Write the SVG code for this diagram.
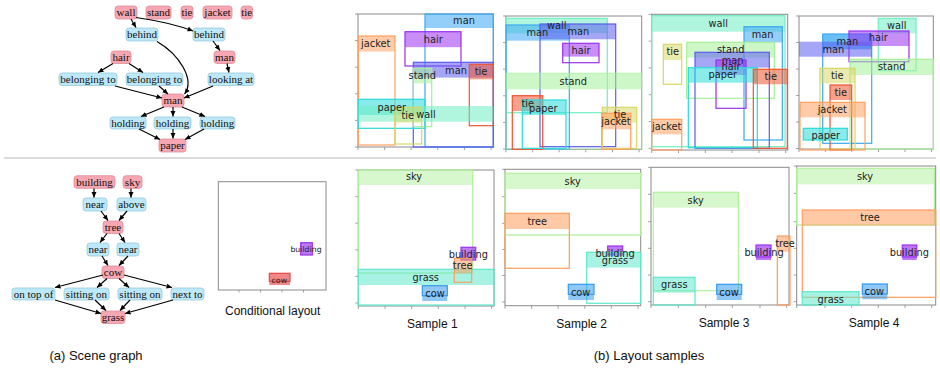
<svg xmlns="http://www.w3.org/2000/svg" width="940" height="371" viewBox="0 0 940 371">
<defs>
<marker id="ah" viewBox="0 0 10 10" refX="10" refY="5" markerWidth="5.5" markerHeight="5.5" orient="auto" markerUnits="userSpaceOnUse"><path d="M0,0.5 L10,5 L0,9.5 z" fill="#000"/></marker>
</defs>
<style>
.sg rect{rx:3;ry:3;stroke-width:0.8}
.obj rect{fill:#f6a7b2;stroke:#df8d99}
.rel rect{fill:#bde8f7;stroke:#97cadc}
.sg text{font-family:"Liberation Serif",serif;font-size:11px;fill:#111;text-anchor:middle}
.edges path{fill:none;stroke:#000;stroke-width:1.2;marker-end:url(#ah)}
.frame{fill:none;stroke:#8a8a8a;stroke-width:1}
.tick{fill:none;stroke:#8a8a8a;stroke-width:0.8}
.lb{font-family:"DejaVu Sans",sans-serif;font-size:9.8px;fill:#222;text-anchor:middle}
.cap{font-family:"Liberation Sans",Arial,sans-serif;font-size:12px;fill:#111;text-anchor:middle}
.big{font-size:13px}
.o{fill:none;stroke-width:1.2}
.h{stroke:none;fill-opacity:0.55}
.man1 .o{stroke:#3aa8f2}.man1 .h{fill:#3aa8f2}
.man2 .o{stroke:#5c5cf0}.man2 .h{fill:#5c5cf0}
.hair .o{stroke:#9a30f0}.hair .h{fill:#9a30f0}
.tier .o{stroke:#f0552f}.tier .h{fill:#f0552f}
.tiey .o{stroke:#d8d868}.tiey .h{fill:#d8d868}
.jacket .o{stroke:#ffa060}.jacket .h{fill:#ffa060}
.stand .o{stroke:#a6f09a}.stand .h{fill:#a6f09a}
.wall .o{stroke:#6fefc2}.wall .h{fill:#6fefc2}
.paper .o{stroke:#2adada}.paper .h{fill:#2adada}
.sky .o{stroke:#b0f09a}.sky .h{fill:#b0f09a;fill-opacity:0.5}
.tree .o{stroke:#ff9d5c}.tree .h{fill:#ff9d5c}
.grass .o{stroke:#5ee8cc}.grass .h{fill:#5ee8cc}
.cow .o{stroke:#3399ee}.cow .h{fill:#3399ee}
.bld .o{stroke:#9a30f0}.bld .h{fill:#9a30f0;fill-opacity:0.65}
.ccow .o{stroke:#e84848}.ccow .h{fill:#e84848;fill-opacity:0.65}
</style>
<rect width="940" height="371" fill="#fff"/>

<!-- divider -->
<line x1="4" y1="158" x2="936" y2="158" stroke="#b5b5b5" stroke-width="1"/>

<!-- scene graph top -->
<g class="sg">
<g id="n-wall" class="obj"><rect x="115" y="6" width="22" height="13"/><text x="126" y="16.3">wall</text></g>
<g id="n-stand" class="obj"><rect x="146" y="6" width="25" height="13"/><text x="158.5" y="16.3">stand</text></g>
<g id="n-tie1" class="obj"><rect x="181" y="6" width="12" height="13"/><text x="187" y="16.3">tie</text></g>
<g id="n-jacket" class="obj"><rect x="203" y="6" width="29" height="13"/><text x="217.5" y="16.3">jacket</text></g>
<g id="n-tie2" class="obj"><rect x="241" y="6" width="11.5" height="13"/><text x="246.7" y="16.3">tie</text></g>
<g id="n-behind1" class="rel"><rect x="126" y="28" width="32" height="13"/><text x="142" y="38.3">behind</text></g>
<g id="n-behind2" class="rel"><rect x="193" y="28" width="32" height="13"/><text x="209" y="38.3">behind</text></g>
<g id="n-hair" class="obj"><rect x="111" y="51" width="20" height="12.5"/><text x="121" y="61">hair</text></g>
<g id="n-man2" class="obj"><rect x="214" y="51" width="21" height="12.5"/><text x="224.5" y="61">man</text></g>
<g id="n-bel1" class="rel"><rect x="59" y="73" width="58" height="12.5"/><text x="88" y="83">belonging to</text></g>
<g id="n-bel2" class="rel"><rect x="126" y="73" width="57" height="12.5"/><text x="154.5" y="83">belonging to</text></g>
<g id="n-look" class="rel"><rect x="208" y="73" width="46" height="12.5"/><text x="231" y="83">looking at</text></g>
<g id="n-man1" class="obj"><rect x="162" y="94" width="22" height="13"/><text x="173" y="104">man</text></g>
<g id="n-hold1" class="rel"><rect x="110" y="117" width="36" height="12"/><text x="128" y="126.8">holding</text></g>
<g id="n-hold2" class="rel"><rect x="154" y="117" width="37" height="12"/><text x="172.5" y="126.8">holding</text></g>
<g id="n-hold3" class="rel"><rect x="200" y="117" width="35" height="12"/><text x="217.5" y="126.8">holding</text></g>
<g id="n-paper" class="obj"><rect x="159" y="139" width="27" height="13"/><text x="172.5" y="149">paper</text></g>

<!-- scene graph bottom -->
<g id="n-building" class="obj"><rect x="74" y="175.7" width="41" height="12.6"/><text x="94.5" y="185.8">building</text></g>
<g id="n-sky" class="obj"><rect x="123" y="175.7" width="19" height="12.6"/><text x="132.5" y="185.8">sky</text></g>
<g id="n-near1" class="rel"><rect x="83" y="198" width="24" height="13"/><text x="95" y="208.3">near</text></g>
<g id="n-above" class="rel"><rect x="117" y="198" width="29" height="13"/><text x="131.5" y="208.3">above</text></g>
<g id="n-tree" class="obj"><rect x="103" y="221" width="20" height="12.5"/><text x="113" y="231">tree</text></g>
<g id="n-near2" class="rel"><rect x="87" y="243" width="22" height="13"/><text x="98" y="253.3">near</text></g>
<g id="n-near3" class="rel"><rect x="117" y="243" width="22" height="13"/><text x="128" y="253.3">near</text></g>
<g id="n-cow" class="obj"><rect x="102" y="266" width="22" height="12.5"/><text x="113" y="276">cow</text></g>
<g id="n-ontop" class="rel"><rect x="12" y="288" width="43" height="12"/><text x="33.5" y="297.8">on top of</text></g>
<g id="n-sit1" class="rel"><rect x="64" y="288" width="45" height="12"/><text x="86.5" y="297.8">sitting on</text></g>
<g id="n-sit2" class="rel"><rect x="118" y="288" width="44" height="12"/><text x="140" y="297.8">sitting on</text></g>
<g id="n-next" class="rel"><rect x="171" y="288" width="33" height="12"/><text x="187.5" y="297.8">next to</text></g>
<g id="n-grass" class="obj"><rect x="101" y="311" width="24" height="12.5"/><text x="113" y="321">grass</text></g>
</g>

<g class="edges" id="connectors">
<path d="M131,19 L136,27.5"/>
<path d="M136,17.5 C160,21 180,26 193,31"/>
<path d="M157,41.5 C180,55 195,80 184.5,94"/>
<path d="M213,41 L220,50.5"/>
<path d="M113,63.5 L98,72.5"/>
<path d="M129,63.5 L143,72.5"/>
<path d="M227,63.5 L229,72.5"/>
<path d="M115,86 L162,98"/>
<path d="M159,86 L168,94"/>
<path d="M213,86 L184,98"/>
<path d="M164,107 L141,116.5"/>
<path d="M173,107 L173,116.5"/>
<path d="M182,107 L205,116.5"/>
<path d="M139,129 L160,139.5"/>
<path d="M173,129 L173,138.5"/>
<path d="M204,129 L185,139.5"/>
<path d="M94,188.5 L94,197.5"/>
<path d="M131,188.5 L131,197.5"/>
<path d="M101,211 L108,220.5"/>
<path d="M127,211 L119,220.5"/>
<path d="M107,233.5 L100,242.5"/>
<path d="M119,233.5 L125,242.5"/>
<path d="M102,256 L108,265.5"/>
<path d="M128,256 L119,265.5"/>
<path d="M103,275 L55,287.5"/>
<path d="M107,278.5 L97,287.5"/>
<path d="M119,278.5 L129,287.5"/>
<path d="M124,275 L172,287.5"/>
<path d="M55,300 L101,313.5"/>
<path d="M95,300 L106,310.5"/>
<path d="M130,300 L120,310.5"/>
<path d="M173,300 L125,313.5"/>
</g>

<!-- Conditional layout -->
<g id="cond">
<rect class="frame" x="218.3" y="181.7" width="107.7" height="108.3"/>
<path class="tick" d="M239,290v2.5M260.5,290v2.5M282,290v2.5M303.5,290v2.5"/>
<g class="bld"><rect class="h" x="300.7" y="242.7" width="11.6" height="12.3"/><rect class="o" x="300.7" y="242.7" width="11.6" height="12.3"/></g>
<g class="ccow"><rect class="h" x="269.3" y="273.3" width="20.7" height="11.7"/><rect class="o" x="269.3" y="273.3" width="20.7" height="8"/></g>
<text class="lb" style="font-size:7.8px" x="306" y="252">building</text>
<text class="lb" style="font-size:7.8px" x="279.3" y="282.6">cow</text>
<text class="cap" x="272.7" y="314.5">Conditional layout</text>
</g>

<!-- Top sample 1 -->
<g id="t1">
<rect class="frame" x="358" y="14" width="135.3" height="133"/>
<path class="tick" d="M358,147v3M384.6,147v3M411.2,147v3M437.8,147v3M464.4,147v3M491,147v3M358,14h-3M358,40.6h-3M358,67.2h-3M358,93.8h-3M358,120.4h-3M358,147h-3"/>
<g class="man1"><rect class="h" x="425" y="14" width="68.3" height="14"/><rect class="o" x="425" y="14" width="68.3" height="133"/></g>
<g class="jacket"><rect class="h" x="358.3" y="36" width="36.7" height="15.5"/><rect class="o" x="358.3" y="36" width="36.7" height="109"/></g>
<g class="hair"><rect class="h" x="405" y="31.7" width="56" height="15.5"/><rect class="o" x="405" y="31.7" width="56" height="34.3"/></g>
<g class="man2"><rect class="h" x="413.3" y="62.3" width="80" height="15.3"/><rect class="o" x="413.3" y="62.3" width="80" height="84.7"/></g>
<g class="tier"><rect class="h" x="469.3" y="64.3" width="24" height="15"/><rect class="o" x="469.3" y="64.3" width="24" height="61.4"/></g>
<g class="stand"><rect class="h" x="413.3" y="68.3" width="18.4" height="15"/><rect class="o" x="413.3" y="68.3" width="18.4" height="58.4"/></g>
<g class="paper"><rect class="h" x="358.3" y="99.3" width="66.7" height="15.7"/><rect class="o" x="358.3" y="99.3" width="66.7" height="29"/></g>
<g class="wall"><rect class="h" x="358.3" y="106" width="135" height="15.7"/></g>
<g class="tiey"><rect class="h" x="395" y="107.3" width="26.7" height="15.3"/><rect class="o" x="395" y="107.3" width="26.7" height="36.7"/></g>
<text class="lb" x="464" y="23.8">man</text>
<text class="lb" x="375.7" y="47.2">jacket</text>
<text class="lb" x="433.3" y="42.8">hair</text>
<text class="lb" x="456" y="73.5">man</text>
<text class="lb" x="481" y="74.5">tie</text>
<text class="lb" x="422.3" y="78.5">stand</text>
<text class="lb" x="391.7" y="110.8">paper</text>
<text class="lb" x="426" y="117.8">wall</text>
<text class="lb" x="407.7" y="119.2">tie</text>
</g>

<!-- Top sample 2 -->
<g id="t2">
<rect class="frame" x="506" y="16" width="135.7" height="133.3"/>
<path class="tick" d="M506,149.3v3M532.6,149.3v3M559.2,149.3v3M585.8,149.3v3M612.4,149.3v3M639,149.3v3M506,16h-3M506,42.6h-3M506,69.2h-3M506,95.8h-3M506,122.4h-3M506,149h-3"/>
<g class="wall"><rect class="h" x="506" y="18.3" width="101.3" height="15"/><rect class="o" x="506" y="18.3" width="101.3" height="94.4"/></g>
<g class="man1"><rect class="h" x="506" y="25" width="63.3" height="15.7"/><rect class="o" x="506" y="25" width="63.3" height="124.3"/></g>
<g class="man2"><rect class="h" x="540" y="24" width="75.7" height="15.3"/><rect class="o" x="540" y="24" width="75.7" height="122.7"/></g>
<g class="hair"><rect class="h" x="562.7" y="43.3" width="36.3" height="13.3"/><rect class="o" x="562.7" y="43.3" width="36.3" height="19.4"/></g>
<g class="stand"><rect class="h" x="506" y="73.3" width="135.7" height="16"/><rect class="o" x="506" y="73.3" width="135.7" height="75.7" style="stroke-opacity:0.6"/></g>
<g class="tier"><rect class="h" x="512.3" y="95.7" width="30.4" height="15.3"/><rect class="o" x="512.3" y="95.7" width="30.4" height="53.6"/></g>
<g class="paper"><rect class="h" x="522.3" y="100" width="43.7" height="15"/><rect class="o" x="522.3" y="100" width="43.7" height="48.3"/></g>
<g class="tiey"><rect class="h" x="602.3" y="107.3" width="34.4" height="15.3"/><rect class="o" x="602.3" y="107.3" width="34.4" height="41"/></g>
<g class="jacket"><rect class="h" x="601.7" y="113.3" width="29" height="16"/><rect class="o" x="601.7" y="113.3" width="29" height="36"/></g>
<text class="lb" x="556.7" y="28.5">wall</text>
<text class="lb" x="537.3" y="36.2">man</text>
<text class="lb" x="578.3" y="35.2">man</text>
<text class="lb" x="581" y="54.2">hair</text>
<text class="lb" x="573.3" y="84.5">stand</text>
<text class="lb" x="527.7" y="106.8">tie</text>
<text class="lb" x="543.3" y="111.8">paper</text>
<text class="lb" x="620" y="117.5">tie</text>
<text class="lb" x="616" y="124.5">jacket</text>
</g>

<!-- Top sample 3 -->
<g id="t3">
<rect class="frame" x="651.7" y="14.3" width="136" height="135.7"/>
<path class="tick" d="M651.7,150v3M678.5,150v3M705.3,150v3M732.1,150v3M758.9,150v3M785.7,150v3M651.7,14.3h-3M651.7,41.1h-3M651.7,67.9h-3M651.7,94.7h-3M651.7,121.5h-3M651.7,148.3h-3"/>
<g class="wall"><rect class="h" x="651.7" y="15.7" width="133.3" height="16"/><rect class="o" x="651.7" y="15.7" width="133.3" height="131"/></g>
<g class="man1"><rect class="h" x="744" y="26.7" width="38.3" height="15.7"/><rect class="o" x="744" y="26.7" width="38.3" height="113.3"/></g>
<g class="tiey"><rect class="h" x="663.3" y="44.3" width="18.4" height="15.7"/><rect class="o" x="663.3" y="44.3" width="18.4" height="40"/></g>
<g class="stand"><rect class="h" x="686.7" y="42.3" width="87.6" height="15.3"/><rect class="o" x="686.7" y="42.3" width="87.6" height="56"/></g>
<g class="man2"><rect class="h" x="695" y="52.3" width="74.3" height="15.3"/><rect class="o" x="695" y="52.3" width="74.3" height="96"/></g>
<g class="hair"><rect class="h" x="716" y="60" width="30" height="15"/><rect class="o" x="716" y="60" width="30" height="48.3"/></g>
<g class="paper"><rect class="h" x="688.3" y="67.7" width="69" height="15"/><rect class="o" x="688.3" y="67.7" width="69" height="80"/></g>
<g class="tier"><rect class="h" x="753.3" y="69.3" width="34" height="15"/><rect class="o" x="753.3" y="69.3" width="34" height="79"/></g>
<g class="jacket"><rect class="h" x="651.7" y="119.3" width="30" height="15"/><rect class="o" x="651.7" y="119.3" width="30" height="30.7"/></g>
<text class="lb" x="718.3" y="26.8">wall</text>
<text class="lb" x="762.7" y="37.8">man</text>
<text class="lb" x="672.7" y="55.2">tie</text>
<text class="lb" x="730.7" y="52.8">stand</text>
<text class="lb" x="732.7" y="63.5">man</text>
<text class="lb" x="731" y="70.2">hair</text>
<text class="lb" x="722.7" y="77.5">paper</text>
<text class="lb" x="770.7" y="80.2">tie</text>
<text class="lb" x="666.7" y="130.2">jacket</text>
</g>

<!-- Top sample 4 -->
<g id="t4">
<rect class="frame" x="799" y="16" width="134.3" height="133"/>
<path class="tick" d="M799,149v3M825.5,149v3M852,149v3M878.5,149v3M905,149v3M931.5,149v3M799,16h-3M799,42.5h-3M799,69h-3M799,95.5h-3M799,122h-3M799,148.5h-3"/>
<g class="wall"><rect class="h" x="878.3" y="18.3" width="37.7" height="15"/><rect class="o" x="878.3" y="18.3" width="37.7" height="52.4"/></g>
<g class="man1"><rect class="h" x="822.7" y="34" width="49" height="15.3" style="fill-opacity:0.75"/><rect class="o" x="822.7" y="34" width="49" height="109.3"/></g>
<g class="hair"><rect class="h" x="849" y="31" width="60" height="15"/><rect class="o" x="849" y="31" width="60" height="30.7"/></g>
<g class="man2"><rect class="h" x="799" y="41.7" width="72.7" height="15"/></g>
<g class="stand"><rect class="h" x="850" y="59.3" width="83.3" height="15.7"/><rect class="o" x="850" y="59.3" width="83.3" height="89.7"/></g>
<g class="tiey"><rect class="h" x="820" y="68.3" width="35" height="15"/><rect class="o" x="820" y="68.3" width="35" height="80.7"/></g>
<g class="tier"><rect class="h" x="830" y="85" width="21.7" height="15"/><rect class="o" x="830" y="85" width="21.7" height="65"/></g>
<g class="jacket"><rect class="h" x="800" y="102.3" width="65" height="15"/><rect class="o" x="800" y="102.3" width="65" height="47.7"/></g>
<g class="paper"><rect class="h" x="803.3" y="128.3" width="44" height="11.7"/><rect class="o" x="803.3" y="128.3" width="44" height="11.7"/></g>
<text class="lb" x="896.7" y="29.2">wall</text>
<text class="lb" x="847.3" y="45.2">man</text>
<text class="lb" x="878.3" y="40.8">hair</text>
<text class="lb" x="833.3" y="52.5">man</text>
<text class="lb" x="891.7" y="70.2">stand</text>
<text class="lb" x="837.3" y="78.5">tie</text>
<text class="lb" x="840.7" y="95.8">tie</text>
<text class="lb" x="832.3" y="112.8">jacket</text>
<text class="lb" x="825.7" y="139.2">paper</text>
</g>

<!-- Bottom sample 1 -->
<g id="b1">
<rect class="frame" x="358.3" y="170" width="135.7" height="136"/>
<path class="tick" d="M358.3,306v3M385,306v3M411.6,306v3M438.3,306v3M465,306v3M491.6,306v3M358.3,170h-3M358.3,196.6h-3M358.3,223.2h-3M358.3,249.8h-3M358.3,276.4h-3M358.3,303h-3"/>
<g class="sky"><rect class="h" x="358.3" y="170" width="114.4" height="15"/><rect class="o" x="358.3" y="170" width="114.4" height="103"/></g>
<g class="grass"><rect class="h" x="358.3" y="269.3" width="135.7" height="15.7"/><rect class="o" x="358.3" y="269.3" width="135.7" height="35.7"/></g>
<g class="bld"><rect class="h" x="461" y="247.3" width="14.7" height="12.7"/><rect class="o" x="461" y="247.3" width="14.7" height="12.7"/></g>
<g class="tree"><rect class="h" x="454.3" y="258.3" width="17.4" height="15"/><rect class="o" x="454.3" y="258.3" width="17.4" height="24"/></g>
<g class="cow"><rect class="h" x="422.3" y="285.7" width="25" height="15.3"/><rect class="o" x="422.3" y="285.7" width="25" height="10"/></g>
<text class="lb" x="414" y="179.5">sky</text>
<text class="lb" x="468.3" y="257.8">building</text>
<text class="lb" x="462.7" y="269.2">tree</text>
<text class="lb" x="425.7" y="280.8">grass</text>
<text class="lb" x="435" y="296.8">cow</text>
<text class="cap" x="432.3" y="327.5">Sample 1</text>
</g>

<!-- Bottom sample 2 -->
<g id="b2">
<rect class="frame" x="505" y="169.3" width="135.7" height="136.4"/>
<path class="tick" d="M505,305.7v3M531.6,305.7v3M558.2,305.7v3M584.8,305.7v3M611.4,305.7v3M638,305.7v3M505,169.3h-3M505,196.7h-3M505,223.3h-3M505,249.5h-3M505,275.5h-3M505,302h-3"/>
<g class="sky"><rect class="h" x="505" y="173.3" width="135.7" height="15.7"/><rect class="o" x="505" y="173.3" width="135.7" height="61.7"/></g>
<g class="tree"><rect class="h" x="505" y="213.3" width="64.3" height="15.7"/><rect class="o" x="505" y="213.3" width="64.3" height="55"/></g>
<g class="bld"><rect class="h" x="607.7" y="246" width="15" height="9"/><rect class="o" x="607.7" y="246" width="15" height="9"/></g>
<g class="grass"><rect class="h" x="586.7" y="252.3" width="54" height="15.3"/><rect class="o" x="586.7" y="252.3" width="54" height="51"/></g>
<g class="cow"><rect class="h" x="568.3" y="284.3" width="25.7" height="15.7"/><rect class="o" x="568.3" y="284.3" width="25.7" height="10"/></g>
<text class="lb" x="572.7" y="184.5">sky</text>
<text class="lb" x="537.3" y="224.5">tree</text>
<text class="lb" x="615" y="256.8">building</text>
<text class="lb" x="615" y="263.5">grass</text>
<text class="lb" x="580.7" y="295.8">cow</text>
<text class="cap" x="581.7" y="327.5">Sample 2</text>
</g>

<!-- Bottom sample 3 -->
<g id="b3">
<rect class="frame" x="651" y="167.3" width="138" height="137.7"/>
<path class="tick" d="M651,305v3M678.3,305v3M705.7,305v3M732.3,305v3M760,305v3M786.7,305v3M651,167.3h-3M651,194.3h-3M651,221.7h-3M651,248.3h-3M651,275h-3M651,301.7h-3"/>
<g class="sky"><rect class="h" x="653.3" y="192.3" width="85" height="15.3"/><rect class="o" x="653.3" y="192.3" width="85" height="98.4"/></g>
<g class="tree"><rect class="h" x="777.3" y="236" width="12.7" height="15.7"/><rect class="o" x="777.3" y="236" width="12.7" height="69"/></g>
<g class="bld"><rect class="h" x="756" y="245" width="15" height="15"/><rect class="o" x="756" y="245" width="15" height="12"/></g>
<g class="grass"><rect class="h" x="653.3" y="277.3" width="41.7" height="15.3"/><rect class="o" x="653.3" y="277.3" width="41.7" height="27.7"/></g>
<g class="cow"><rect class="h" x="716.7" y="284.3" width="25" height="15.7"/><rect class="o" x="716.7" y="284.3" width="25" height="10"/></g>
<text class="lb" x="695.7" y="203.5">sky</text>
<text class="lb" x="785" y="246.8">tree</text>
<text class="lb" x="764" y="255.8">building</text>
<text class="lb" x="674.3" y="287.8">grass</text>
<text class="lb" x="729" y="295.8">cow</text>
<text class="cap" x="724" y="326.8">Sample 3</text>
</g>

<!-- Bottom sample 4 -->
<g id="b4">
<rect class="frame" x="796.7" y="166" width="139" height="139"/>
<path class="tick" d="M796.7,305v3M825,305v3M851.7,305v3M878.3,305v3M905,305v3M931.7,305v3M796.7,166h-3M796.7,193.3h-3M796.7,221.7h-3M796.7,248.3h-3M796.7,275h-3M796.7,301.7h-3"/>
<g class="sky"><rect class="h" x="796.7" y="168.3" width="137.6" height="16"/><rect class="o" x="796.7" y="168.3" width="137.6" height="56.7"/></g>
<g class="tree"><rect class="h" x="802.3" y="210" width="133.4" height="15.7"/><rect class="o" x="802.3" y="210" width="133.4" height="87.3"/></g>
<g class="bld"><rect class="h" x="902.3" y="245" width="14.4" height="15"/><rect class="o" x="902.3" y="245" width="14.4" height="12"/></g>
<g class="cow"><rect class="h" x="862.3" y="284" width="25" height="15.3"/><rect class="o" x="862.3" y="284" width="25" height="10"/></g>
<g class="grass"><rect class="h" x="802.3" y="291.7" width="56.7" height="13.3"/><rect class="o" x="802.3" y="291.7" width="56.7" height="13.3"/></g>
<text class="lb" x="865" y="179.5">sky</text>
<text class="lb" x="870" y="220.8">tree</text>
<text class="lb" x="909.3" y="255.8">building</text>
<text class="lb" x="874.3" y="295.2">cow</text>
<text class="lb" x="830.7" y="302.8">grass</text>
<text class="cap" x="874" y="326.5">Sample 4</text>
</g>

<text class="cap big" x="96" y="359.5">(a) Scene graph</text>
<text class="cap big" x="649" y="359.5">(b) Layout samples</text>
</svg>
